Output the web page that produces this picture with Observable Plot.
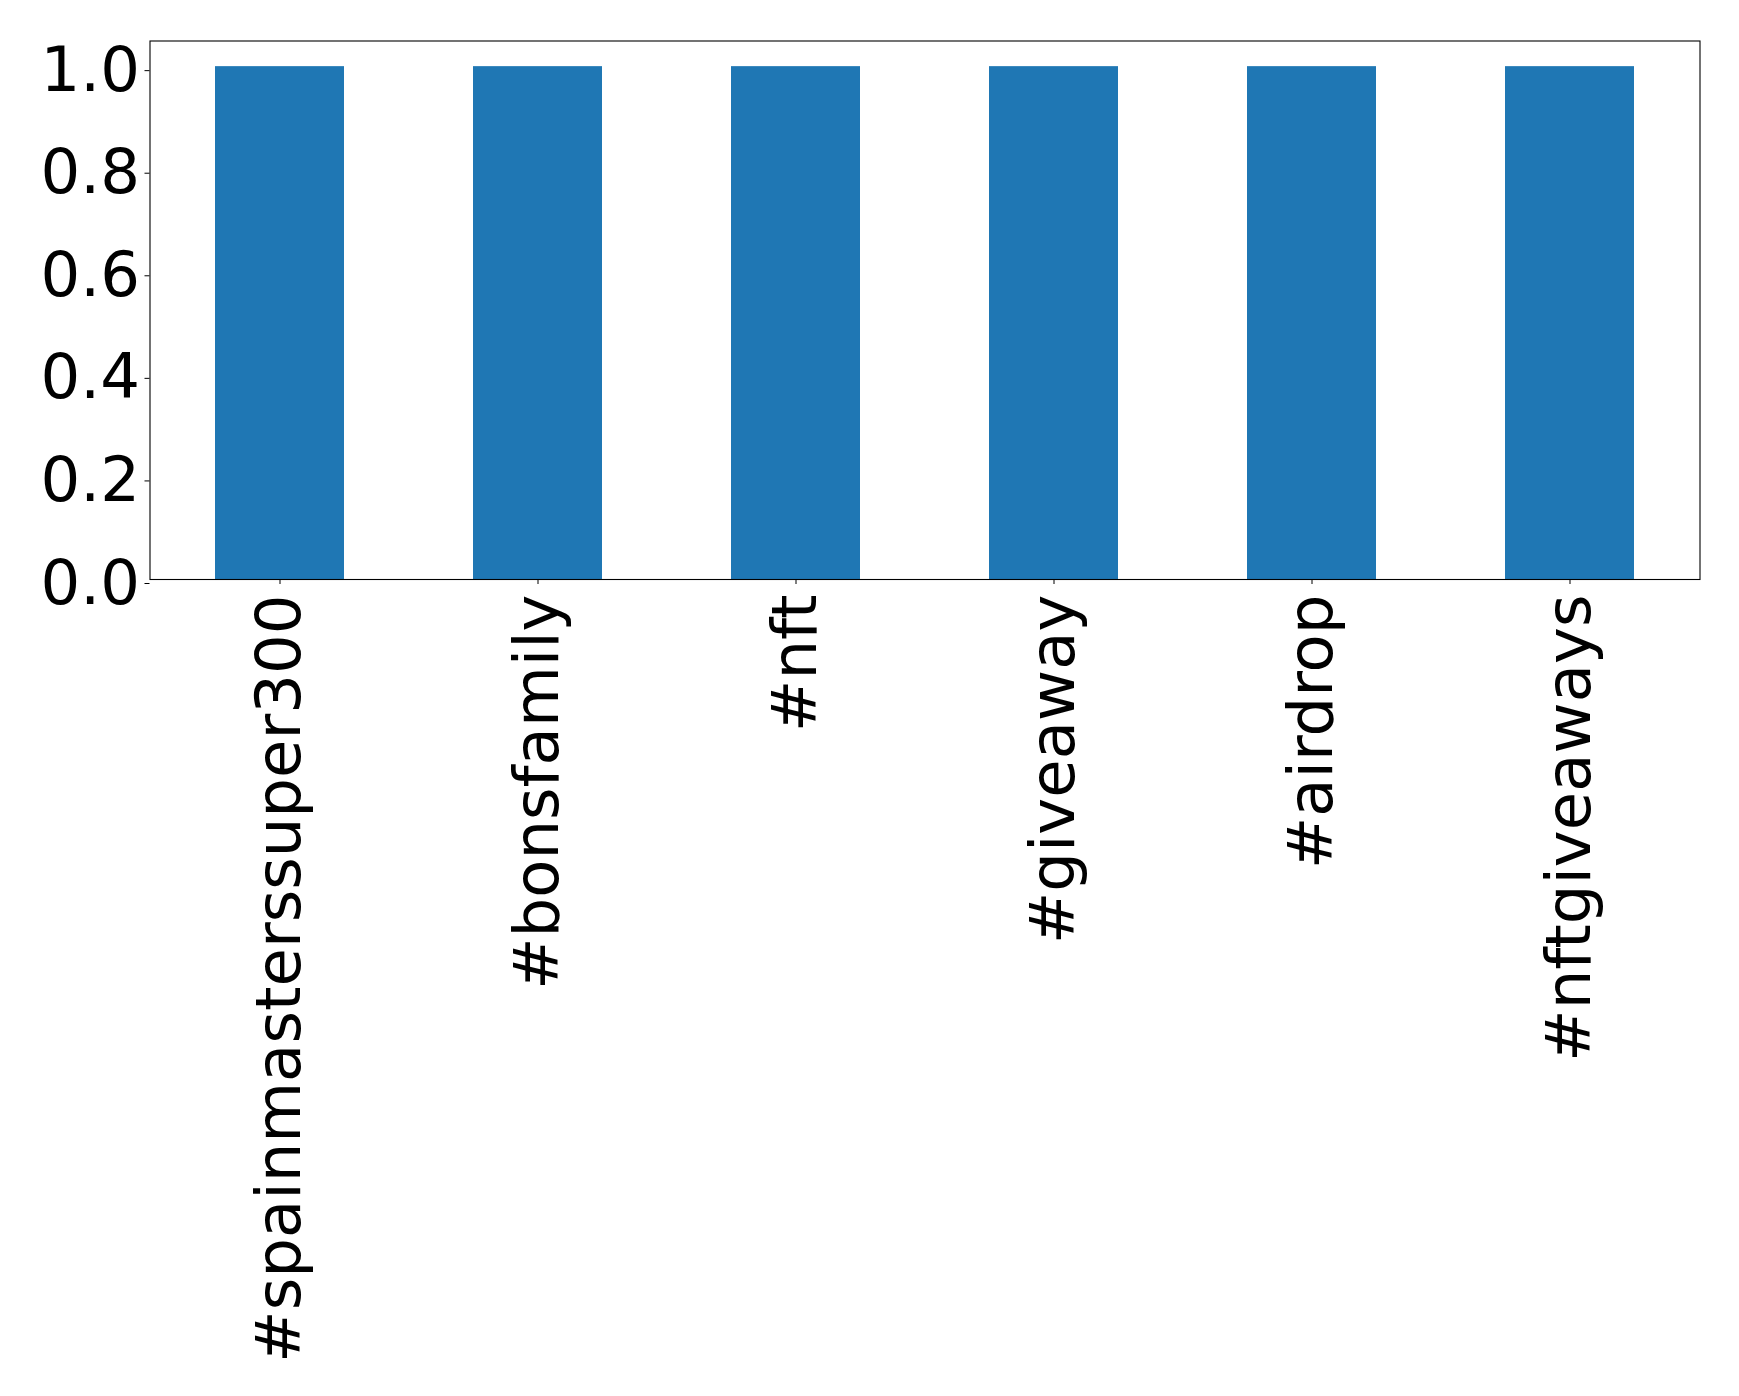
<!DOCTYPE html>
<html>
<head>
<meta charset="utf-8">
<script src="https://cdn.jsdelivr.net/npm/d3@7"></script>
<script src="https://cdn.jsdelivr.net/npm/@observablehq/plot@0.6"></script>
<style>
  html, body { margin: 0; padding: 0; background: #fff; }
  #chart svg { display: block; }
</style>
</head>
<body>
<div id="chart"></div>
<script>
const categories = ["#spainmasterssuper300", "#bonsfamily", "#nft", "#giveaway", "#airdrop", "#nftgiveaways"];
const values = [1, 1, 1, 1, 1, 1];
const yTicks = [0, 0.2, 0.4, 0.6, 0.8, 1.0];

const data = categories.map((c, i) => ({tag: c, value: values[i]}));

const chart = Plot.plot({
  width: 1739,
  height: 1396,
  marginLeft: 149.5,
  marginRight: 39.5,
  marginTop: 40.5,
  marginBottom: 817,
  style: {fontFamily: "DejaVu Sans", background: "#fff", color: "#000"},
  x: {domain: categories, paddingInner: 0.5, paddingOuter: 0.25, label: null},
  y: {domain: [0, 1.05], label: null},
  marks: [
    Plot.barY(data, {x: "tag", y: "value", fill: "#1f77b4"}),
    Plot.frame({stroke: "#000", strokeWidth: 1.1}),
    Plot.axisY({
      ticks: yTicks,
      tickFormat: d3.format(".1f"),
      tickSize: 5,
      tickPadding: 5,
      fontSize: 62.5,
      dy: 4,
      label: null,
      stroke: "#000"
    }),
    Plot.axisX({
      tickSize: 5,
      tickPadding: 10,
      tickRotate: -90,
      textAnchor: "end",
      lineAnchor: "middle",
      fontSize: 62.5,
      label: null,
      stroke: "#000"
    })
  ]
});
document.getElementById("chart").appendChild(chart);
</script>
</body>
</html>
